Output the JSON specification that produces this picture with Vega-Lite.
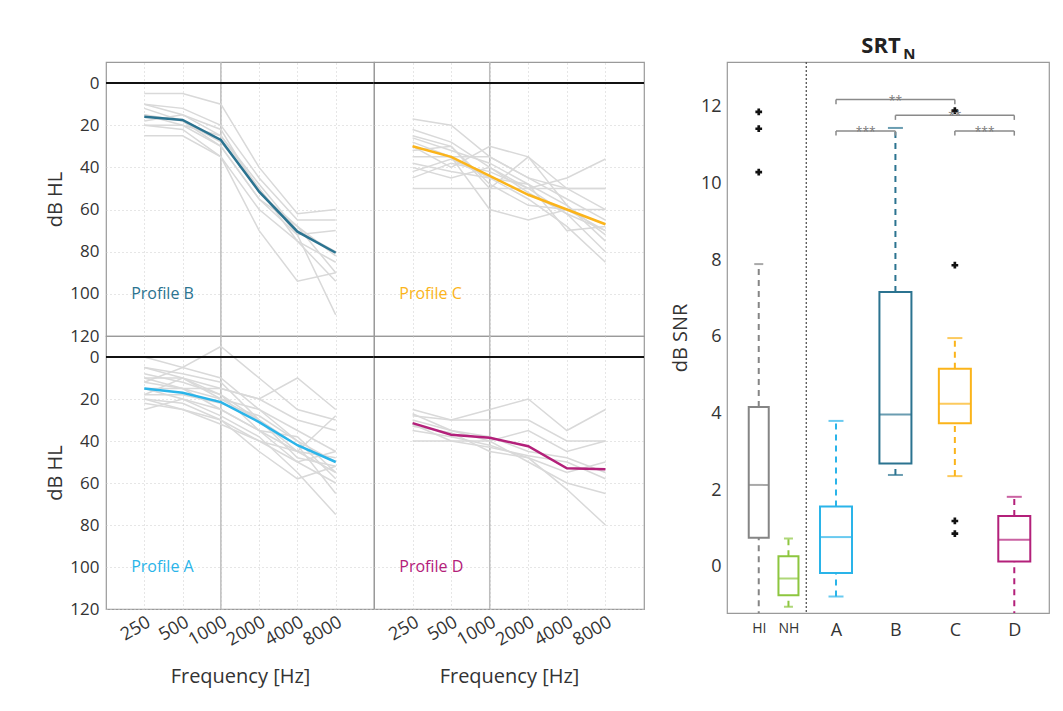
{
"$schema": "https://vega.github.io/schema/vega-lite/v6.json",
"padding": {"left": 45, "top": 34, "right": 5, "bottom": 5},
"background": "white",
"config": {
 "font": "Open Sans",
 "view": {"stroke": "#9a9a9a", "strokeWidth": 1.2},
 "axis": {"labelColor": "#333333", "titleColor": "#333333", "titleFontWeight": "normal", "domain": false, "ticks": false, "gridColor": "#cccccc", "gridDash": [1, 3], "gridWidth": 1}
},
"datasets": {
 "aud": [
  {"p":"B","s":"1","f":[250,500,1000,2000,4000,8000],"v":[5,5,10,40,62,60]},
  {"p":"B","s":"2","f":[250,500,1000,2000,4000,8000],"v":[10,12,20,45,65,65]},
  {"p":"B","s":"3","f":[250,500,1000,2000,4000,8000],"v":[20,20,25,50,72,70]},
  {"p":"B","s":"4","f":[250,500,1000,2000,4000,8000],"v":[25,25,35,60,75,85]},
  {"p":"B","s":"5","f":[250,500,1000,2000,4000,8000],"v":[15,18,30,55,68,90]},
  {"p":"B","s":"6","f":[250,500,1000,2000,4000,8000],"v":[10,15,25,48,70,80]},
  {"p":"B","s":"7","f":[250,500,1000,2000,4000,8000],"v":[20,22,35,70,94,90]},
  {"p":"B","s":"8","f":[250,500,1000,2000,4000,8000],"v":[15,20,30,55,72,110]},
  {"p":"B","s":"9","f":[250,500,1000,2000,4000,8000],"v":[18,15,22,52,68,82]},
  {"p":"B","s":"10","f":[250,500,1000,2000,4000,8000],"v":[12,18,28,50,75,94]},
  {"p":"B","s":"m","f":[250,500,1000,2000,4000,8000],"v":[16,17.5,27,51.5,70.5,80.5]},
  {"p":"C","s":"1","f":[250,500,1000,2000,4000,8000],"v":[17,20,35,45,55,65]},
  {"p":"C","s":"2","f":[250,500,1000,2000,4000,8000],"v":[22,28,40,50,62,70]},
  {"p":"C","s":"3","f":[250,500,1000,2000,4000,8000],"v":[26,32,38,48,58,75]},
  {"p":"C","s":"4","f":[250,500,1000,2000,4000,8000],"v":[30,40,30,35,50,60]},
  {"p":"C","s":"5","f":[250,500,1000,2000,4000,8000],"v":[35,35,35,45,50,50]},
  {"p":"C","s":"6","f":[250,500,1000,2000,4000,8000],"v":[40,45,40,52,62,80]},
  {"p":"C","s":"7","f":[250,500,1000,2000,4000,8000],"v":[45,38,42,50,45,36]},
  {"p":"C","s":"8","f":[250,500,1000,2000,4000,8000],"v":[50,50,50,50,50,50]},
  {"p":"C","s":"9","f":[250,500,1000,2000,4000,8000],"v":[28,35,60,65,60,70]},
  {"p":"C","s":"10","f":[250,500,1000,2000,4000,8000],"v":[32,30,50,35,58,72]},
  {"p":"C","s":"11","f":[250,500,1000,2000,4000,8000],"v":[38,42,45,55,68,85]},
  {"p":"C","s":"12","f":[250,500,1000,2000,4000,8000],"v":[25,30,48,58,60,60]},
  {"p":"C","s":"13","f":[250,500,1000,2000,4000,8000],"v":[42,36,45,48,70,68]},
  {"p":"C","s":"m","f":[250,500,1000,2000,4000,8000],"v":[30,35,44,53,60,67]},
  {"p":"A","s":"1","f":[250,500,1000,2000,4000,8000],"v":[0,5,-5,10,25,30]},
  {"p":"A","s":"2","f":[250,500,1000,2000,4000,8000],"v":[5,10,15,20,10,25]},
  {"p":"A","s":"3","f":[250,500,1000,2000,4000,8000],"v":[10,10,20,25,35,45]},
  {"p":"A","s":"4","f":[250,500,1000,2000,4000,8000],"v":[15,20,25,35,45,55]},
  {"p":"A","s":"5","f":[250,500,1000,2000,4000,8000],"v":[20,25,30,40,50,60]},
  {"p":"A","s":"6","f":[250,500,1000,2000,4000,8000],"v":[25,20,28,38,55,75]},
  {"p":"A","s":"7","f":[250,500,1000,2000,4000,8000],"v":[10,15,20,30,45,48]},
  {"p":"A","s":"8","f":[250,500,1000,2000,4000,8000],"v":[12,5,10,25,40,50]},
  {"p":"A","s":"9","f":[250,500,1000,2000,4000,8000],"v":[18,18,22,28,40,58]},
  {"p":"A","s":"10","f":[250,500,1000,2000,4000,8000],"v":[8,12,18,30,48,52]},
  {"p":"A","s":"11","f":[250,500,1000,2000,4000,8000],"v":[20,22,30,45,58,52]},
  {"p":"A","s":"12","f":[250,500,1000,2000,4000,8000],"v":[15,15,15,20,30,35]},
  {"p":"A","s":"13","f":[250,500,1000,2000,4000,8000],"v":[5,8,12,30,42,65]},
  {"p":"A","s":"14","f":[250,500,1000,2000,4000,8000],"v":[22,25,32,40,45,28]},
  {"p":"A","s":"15","f":[250,500,1000,2000,4000,8000],"v":[12,15,25,35,38,55]},
  {"p":"A","s":"16","f":[250,500,1000,2000,4000,8000],"v":[18,10,18,35,50,45]},
  {"p":"A","s":"m","f":[250,500,1000,2000,4000,8000],"v":[15,17,21.5,31,42,50]},
  {"p":"D","s":"1","f":[250,500,1000,2000,4000,8000],"v":[25,30,25,20,35,25]},
  {"p":"D","s":"2","f":[250,500,1000,2000,4000,8000],"v":[28,30,30,30,40,40]},
  {"p":"D","s":"3","f":[250,500,1000,2000,4000,8000],"v":[30,35,40,35,45,40]},
  {"p":"D","s":"4","f":[250,500,1000,2000,4000,8000],"v":[35,38,42,48,55,50]},
  {"p":"D","s":"5","f":[250,500,1000,2000,4000,8000],"v":[40,40,40,50,60,65]},
  {"p":"D","s":"6","f":[250,500,1000,2000,4000,8000],"v":[33,36,45,48,63,80]},
  {"p":"D","s":"7","f":[250,500,1000,2000,4000,8000],"v":[27,35,38,45,48,55]},
  {"p":"D","s":"8","f":[250,500,1000,2000,4000,8000],"v":[32,40,43,47,50,58]},
  {"p":"D","s":"m","f":[250,500,1000,2000,4000,8000],"v":[31.5,37,38.5,42.5,53,53.5]}
 ],
 "box": [
  {"g":"HI","x":0.7,"lo":-1.6,"q1":0.76,"med":2.14,"q3":4.17,"hi":7.9},
  {"g":"NH","x":1.2,"lo":-1.04,"q1":-0.74,"med":-0.3,"q3":0.28,"hi":0.74},
  {"g":"A","x":2,"lo":-0.77,"q1":-0.16,"med":0.78,"q3":1.58,"hi":3.81},
  {"g":"B","x":3,"lo":2.4,"q1":2.7,"med":3.98,"q3":7.17,"hi":11.45},
  {"g":"C","x":4,"lo":2.37,"q1":3.75,"med":4.26,"q3":5.17,"hi":5.97},
  {"g":"D","x":5,"lo":-1.6,"q1":0.14,"med":0.71,"q3":1.33,"hi":1.83}
 ],
 "out": [
  {"g":"HI","x":0.7,"v":11.87},{"g":"HI","x":0.7,"v":11.43},{"g":"HI","x":0.7,"v":10.3},
  {"g":"C","x":4,"v":11.9},{"g":"C","x":4,"v":7.87},{"g":"C","x":4,"v":1.2},{"g":"C","x":4,"v":0.87}
 ],
 "sig": [
  {"a":2,"b":4,"mid":3,"lvl":12.19,"tip":12.07,"lab":"**"},
  {"a":3,"b":5,"mid":4,"lvl":11.78,"tip":11.66,"lab":"**"},
  {"a":2,"b":3,"mid":2.5,"lvl":11.37,"tip":11.25,"lab":"***"},
  {"a":4,"b":5,"mid":4.5,"lvl":11.37,"tip":11.25,"lab":"***"}
 ]
},
"hconcat": [
 {"concat": [
   {"width": 268, "height": 274, "layer": [
    {"data": {"values": [{}]}, "mark": {"type": "rule", "color": "#bdbdbd", "strokeWidth": 1.5}, "encoding": {"x": {"datum": 1000, "type": "quantitative"}}},
    {"data": {"name": "aud"}, "transform": [{"flatten": ["f","v"]}, {"filter": "datum.p == 'B' && datum.s != 'm'"}], "mark": {"type": "line", "color": "#d9d9d9", "strokeWidth": 1.5},
     "encoding": {
      "x": {"field": "f", "type": "quantitative", "scale": {"type": "log", "base": 2, "domain": [125, 16000], "nice": false}, "axis": {"values": [250,500,1000,2000,4000,8000], "labels": false, "title": null, "grid": true}},
      "y": {"field": "v", "type": "quantitative", "scale": {"domain": [-10, 120], "reverse": true, "nice": false, "zero": false}, "axis": {"values": [0,20,40,60,80,100,120], "title": "dB HL", "grid": true, "labelFontSize": 17, "titleFontSize": 20, "labelPadding": 7, "titlePadding": 4}},
      "detail": {"field": "s", "type": "nominal"}}},
    {"data": {"name": "aud"}, "transform": [{"flatten": ["f","v"]}, {"filter": "datum.p == 'B' && datum.s == 'm'"}], "mark": {"type": "line", "color": "#2b7390", "strokeWidth": 2.5},
     "encoding": {"x": {"field": "f", "type": "quantitative"}, "y": {"field": "v", "type": "quantitative"}}},
    {"data": {"values": [{}]}, "mark": {"type": "rule", "color": "#111111", "strokeWidth": 2}, "encoding": {"y": {"datum": 0, "type": "quantitative"}}},
    {"data": {"values": [{}]}, "mark": {"type": "text", "text": "Profile B", "align": "left", "baseline": "middle", "fontSize": 16, "color": "#2b7390"}, "encoding": {"x": {"datum": 197, "type": "quantitative"}, "y": {"datum": 100, "type": "quantitative"}}}
   ]},
   {"width": 270, "height": 274, "layer": [
    {"data": {"values": [{}]}, "mark": {"type": "rule", "color": "#bdbdbd", "strokeWidth": 1.5}, "encoding": {"x": {"datum": 1000, "type": "quantitative"}}},
    {"data": {"name": "aud"}, "transform": [{"flatten": ["f","v"]}, {"filter": "datum.p == 'C' && datum.s != 'm'"}], "mark": {"type": "line", "color": "#d9d9d9", "strokeWidth": 1.5},
     "encoding": {
      "x": {"field": "f", "type": "quantitative", "scale": {"type": "log", "base": 2, "domain": [125, 16000], "nice": false}, "axis": {"values": [250,500,1000,2000,4000,8000], "labels": false, "title": null, "grid": true}},
      "y": {"field": "v", "type": "quantitative", "scale": {"domain": [-10, 120], "reverse": true, "nice": false, "zero": false}, "axis": {"values": [0,20,40,60,80,100,120], "labels": false, "title": null, "grid": true}},
      "detail": {"field": "s", "type": "nominal"}}},
    {"data": {"name": "aud"}, "transform": [{"flatten": ["f","v"]}, {"filter": "datum.p == 'C' && datum.s == 'm'"}], "mark": {"type": "line", "color": "#fbb41a", "strokeWidth": 2.5},
     "encoding": {"x": {"field": "f", "type": "quantitative"}, "y": {"field": "v", "type": "quantitative"}}},
    {"data": {"values": [{}]}, "mark": {"type": "rule", "color": "#111111", "strokeWidth": 2}, "encoding": {"y": {"datum": 0, "type": "quantitative"}}},
    {"data": {"values": [{}]}, "mark": {"type": "text", "text": "Profile C", "align": "left", "baseline": "middle", "fontSize": 16, "color": "#fbb41a"}, "encoding": {"x": {"datum": 197, "type": "quantitative"}, "y": {"datum": 100, "type": "quantitative"}}}
   ]},
   {"width": 268, "height": 273, "layer": [
    {"data": {"values": [{}]}, "mark": {"type": "rule", "color": "#bdbdbd", "strokeWidth": 1.5}, "encoding": {"x": {"datum": 1000, "type": "quantitative"}}},
    {"data": {"name": "aud"}, "transform": [{"flatten": ["f","v"]}, {"filter": "datum.p == 'A' && datum.s != 'm'"}], "mark": {"type": "line", "color": "#d9d9d9", "strokeWidth": 1.5},
     "encoding": {
      "x": {"field": "f", "type": "quantitative", "scale": {"type": "log", "base": 2, "domain": [125, 16000], "nice": false}, "axis": {"values": [250,500,1000,2000,4000,8000], "format": "d", "labelOverlap": false, "grid": true, "title": "Frequency [Hz]", "labelAngle": -30, "labelAlign": "right", "labelBaseline": "top", "labelFontSize": 18, "labelPadding": 4, "titleFontSize": 20, "titlePadding": 17}},
      "y": {"field": "v", "type": "quantitative", "scale": {"domain": [-10, 120], "reverse": true, "nice": false, "zero": false}, "axis": {"values": [0,20,40,60,80,100,120], "title": "dB HL", "grid": true, "labelFontSize": 17, "titleFontSize": 20, "labelPadding": 7, "titlePadding": 4}},
      "detail": {"field": "s", "type": "nominal"}}},
    {"data": {"name": "aud"}, "transform": [{"flatten": ["f","v"]}, {"filter": "datum.p == 'A' && datum.s == 'm'"}], "mark": {"type": "line", "color": "#2ab4e9", "strokeWidth": 2.5},
     "encoding": {"x": {"field": "f", "type": "quantitative"}, "y": {"field": "v", "type": "quantitative"}}},
    {"data": {"values": [{}]}, "mark": {"type": "rule", "color": "#111111", "strokeWidth": 2}, "encoding": {"y": {"datum": 0, "type": "quantitative"}}},
    {"data": {"values": [{}]}, "mark": {"type": "text", "text": "Profile A", "align": "left", "baseline": "middle", "fontSize": 16, "color": "#2ab4e9"}, "encoding": {"x": {"datum": 197, "type": "quantitative"}, "y": {"datum": 100, "type": "quantitative"}}}
   ]},
   {"width": 270, "height": 273, "layer": [
    {"data": {"values": [{}]}, "mark": {"type": "rule", "color": "#bdbdbd", "strokeWidth": 1.5}, "encoding": {"x": {"datum": 1000, "type": "quantitative"}}},
    {"data": {"name": "aud"}, "transform": [{"flatten": ["f","v"]}, {"filter": "datum.p == 'D' && datum.s != 'm'"}], "mark": {"type": "line", "color": "#d9d9d9", "strokeWidth": 1.5},
     "encoding": {
      "x": {"field": "f", "type": "quantitative", "scale": {"type": "log", "base": 2, "domain": [125, 16000], "nice": false}, "axis": {"values": [250,500,1000,2000,4000,8000], "format": "d", "labelOverlap": false, "grid": true, "title": "Frequency [Hz]", "labelAngle": -30, "labelAlign": "right", "labelBaseline": "top", "labelFontSize": 18, "labelPadding": 4, "titleFontSize": 20, "titlePadding": 17}},
      "y": {"field": "v", "type": "quantitative", "scale": {"domain": [-10, 120], "reverse": true, "nice": false, "zero": false}, "axis": {"values": [0,20,40,60,80,100,120], "labels": false, "title": null, "grid": true}},
      "detail": {"field": "s", "type": "nominal"}}},
    {"data": {"name": "aud"}, "transform": [{"flatten": ["f","v"]}, {"filter": "datum.p == 'D' && datum.s == 'm'"}], "mark": {"type": "line", "color": "#b3207a", "strokeWidth": 2.5},
     "encoding": {"x": {"field": "f", "type": "quantitative"}, "y": {"field": "v", "type": "quantitative"}}},
    {"data": {"values": [{}]}, "mark": {"type": "rule", "color": "#111111", "strokeWidth": 2}, "encoding": {"y": {"datum": 0, "type": "quantitative"}}},
    {"data": {"values": [{}]}, "mark": {"type": "text", "text": "Profile D", "align": "left", "baseline": "middle", "fontSize": 16, "color": "#b3207a"}, "encoding": {"x": {"datum": 197, "type": "quantitative"}, "y": {"datum": 100, "type": "quantitative"}}}
   ]}
  ], "columns": 2, "spacing": 0, "bounds": "flush"},
 {"width": 322, "height": 551, "layer": [
  {"data": {"values": [{}]}, "mark": {"type": "rule", "color": "#555555", "strokeDash": [2, 2], "strokeWidth": 1.3},
   "encoding": {"x": {"datum": 1.5, "type": "quantitative", "scale": {"domain": [0.25, 5.5], "nice": false, "zero": false},
     "axis": {"values": [0.7, 1.2, 2, 3, 4, 5], "labelExpr": "datum.value == 0.7 ? 'HI' : datum.value == 1.2 ? 'NH' : datum.value == 2 ? 'A' : datum.value == 3 ? 'B' : datum.value == 4 ? 'C' : 'D'", "labelFontSize": {"condition": {"test": "datum.value < 1.5", "value": 14}, "value": 18}, "title": null, "grid": false, "labelPadding": 8}}}},
  {"data": {"name": "box"}, "mark": {"type": "rule", "strokeDash": [6, 5], "strokeWidth": 2},
   "encoding": {"x": {"field": "x", "type": "quantitative"},
    "y": {"field": "q3", "type": "quantitative", "scale": {"domain": [-1.2, 13.17], "nice": false, "zero": false}, "axis": {"values": [0,2,4,6,8,10,12], "title": "dB SNR", "titleFontSize": 20, "labelFontSize": 18, "grid": false, "labelPadding": 6, "titlePadding": 10}},
    "y2": {"field": "hi"},
    "stroke": {"field": "g", "type": "nominal", "scale": {"domain": ["HI","NH","A","B","C","D"], "range": ["#858585","#8dc63f","#2ab4e9","#2b7390","#fbb41a","#b3207a"]}, "legend": null}}},
  {"data": {"name": "box"}, "mark": {"type": "rule", "strokeDash": [6, 5], "strokeWidth": 2, "clip": true},
   "encoding": {"x": {"field": "x", "type": "quantitative"}, "y": {"field": "lo", "type": "quantitative"}, "y2": {"field": "q1"},
    "stroke": {"field": "g", "type": "nominal", "legend": null}}},
  {"data": {"name": "box"}, "transform": [{"filter": "datum.x < 1.5"}, {"fold": ["lo", "hi"], "as": ["k", "val"]}], "mark": {"type": "tick", "orient": "horizontal", "size": 9, "thickness": 2, "clip": true},
   "encoding": {"x": {"field": "x", "type": "quantitative"}, "y": {"field": "val", "type": "quantitative"},
    "color": {"field": "g", "type": "nominal", "scale": {"domain": ["HI","NH","A","B","C","D"], "range": ["#858585","#8dc63f","#2ab4e9","#2b7390","#fbb41a","#b3207a"]}, "legend": null}}},
  {"data": {"name": "box"}, "transform": [{"filter": "datum.x > 1.5"}, {"fold": ["lo", "hi"], "as": ["k", "val"]}], "mark": {"type": "tick", "orient": "horizontal", "size": 15, "thickness": 2, "clip": true},
   "encoding": {"x": {"field": "x", "type": "quantitative"}, "y": {"field": "val", "type": "quantitative"},
    "color": {"field": "g", "type": "nominal", "legend": null}}},
  {"data": {"name": "box"}, "transform": [{"filter": "datum.x < 1.5"}], "mark": {"type": "bar", "width": 20, "fill": "white", "strokeWidth": 2},
   "encoding": {"x": {"field": "x", "type": "quantitative"}, "y": {"field": "q1", "type": "quantitative"}, "y2": {"field": "q3"},
    "stroke": {"field": "g", "type": "nominal", "legend": null}}},
  {"data": {"name": "box"}, "transform": [{"filter": "datum.x > 1.5"}], "mark": {"type": "bar", "width": 32, "fill": "white", "strokeWidth": 2},
   "encoding": {"x": {"field": "x", "type": "quantitative"}, "y": {"field": "q1", "type": "quantitative"}, "y2": {"field": "q3"},
    "stroke": {"field": "g", "type": "nominal", "legend": null}}},
  {"data": {"name": "box"}, "transform": [{"filter": "datum.x < 1.5"}], "mark": {"type": "tick", "orient": "horizontal", "size": 20, "thickness": 2},
   "encoding": {"x": {"field": "x", "type": "quantitative"}, "y": {"field": "med", "type": "quantitative"},
    "color": {"field": "g", "type": "nominal", "legend": null}}},
  {"data": {"name": "box"}, "transform": [{"filter": "datum.x > 1.5"}], "mark": {"type": "tick", "orient": "horizontal", "size": 32, "thickness": 2},
   "encoding": {"x": {"field": "x", "type": "quantitative"}, "y": {"field": "med", "type": "quantitative"},
    "color": {"field": "g", "type": "nominal", "legend": null}}},
  {"data": {"name": "out"}, "mark": {"type": "point", "shape": "cross", "filled": true, "color": "#111111", "size": 45, "opacity": 1},
   "encoding": {"x": {"field": "x", "type": "quantitative"}, "y": {"field": "v", "type": "quantitative"}}},
  {"data": {"name": "sig"}, "mark": {"type": "rule", "color": "#8a8a8a", "strokeWidth": 1.5},
   "encoding": {"x": {"field": "a", "type": "quantitative"}, "x2": {"field": "b"}, "y": {"field": "lvl", "type": "quantitative"}}},
  {"data": {"name": "sig"}, "mark": {"type": "rule", "color": "#8a8a8a", "strokeWidth": 1.5},
   "encoding": {"x": {"field": "a", "type": "quantitative"}, "y": {"field": "lvl", "type": "quantitative"}, "y2": {"field": "tip"}}},
  {"data": {"name": "sig"}, "mark": {"type": "rule", "color": "#8a8a8a", "strokeWidth": 1.5},
   "encoding": {"x": {"field": "b", "type": "quantitative"}, "y": {"field": "lvl", "type": "quantitative"}, "y2": {"field": "tip"}}},
  {"data": {"name": "sig"}, "mark": {"type": "text", "color": "#7a7a7a", "fontSize": 12, "baseline": "alphabetic", "dy": 5},
   "encoding": {"x": {"field": "mid", "type": "quantitative"}, "y": {"field": "lvl", "type": "quantitative"}, "text": {"field": "lab"}}},
  {"data": {"values": [{}]}, "mark": {"type": "text", "text": "SRT", "fontSize": 22, "fontWeight": "bold", "align": "center", "baseline": "alphabetic", "color": "#222222"},
   "encoding": {"x": {"datum": 2.757, "type": "quantitative"}, "y": {"datum": 13.4, "type": "quantitative"}}},
  {"data": {"values": [{}]}, "mark": {"type": "text", "text": "N", "fontSize": 15, "fontWeight": "bold", "align": "left", "baseline": "alphabetic", "color": "#222222"},
   "encoding": {"x": {"datum": 3.13, "type": "quantitative"}, "y": {"datum": 13.25, "type": "quantitative"}}}
 ]}
],
"spacing": 23
}
